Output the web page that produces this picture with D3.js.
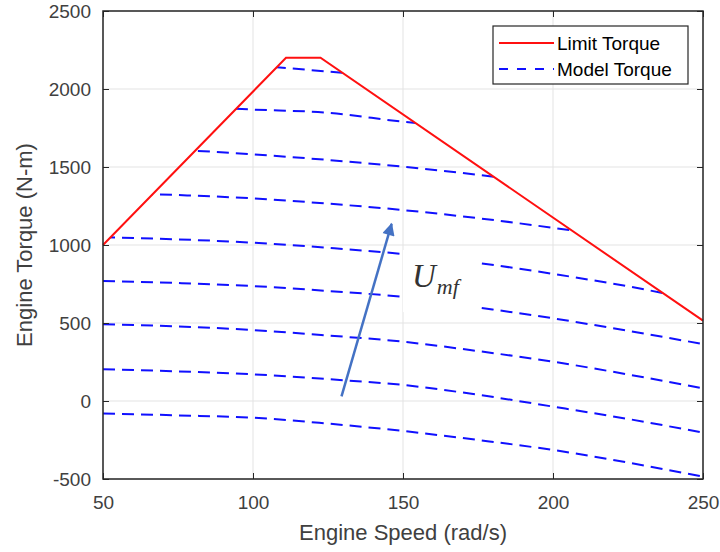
<!DOCTYPE html>
<html>
<head>
<meta charset="utf-8">
<script src="https://cdn.jsdelivr.net/npm/d3@7"></script>
<style>
body { margin: 0; background: #fff; }
text { font-family: Arial, "Liberation Sans", sans-serif; }
</style>
</head>
<body>
<div id="chart"></div>
<script>
// axis ticks
var speedTicks = [50, 100, 150, 200, 250];
var torqueTicks = [-500, 0, 500, 1000, 1500, 2000, 2500];

// limit torque envelope (rad/s, N-m)
var limitSpeed = [50, 111, 122.5, 250];
var limitTorque = [1000, 2200, 2200, 515];

// model torque curves, one per U_mf level, sampled at modelSpeed
var modelSpeed = [50, 75, 100, 125, 150, 175, 200, 225, 250];
var model1 = [-80, -92, -107, -145, -192, -250, -314, -395, -485];
var model2 = [203, 190, 171, 140, 103, 40, -36, -115, -203];
var model3 = [492, 478, 455, 420, 380, 320, 252, 170, 81];
var model4 = [769, 756, 737, 705, 667, 600, 530, 450, 365];
var model5 = [1050, 1036, 1015, 982, 942, 885, 815, 735, 640];
var model6 = [1336, 1320, 1299, 1265, 1224, 1172, 1110, 1040, 960];
var model7 = [1630, 1610, 1581, 1545, 1502, 1450, 1385, 1310, 1220];
var model8 = [1905, 1890, 1868, 1848, 1790, 1745, 1680, 1600, 1510];
var model9 = [2190, 2172, 2150, 2112, 2070, 2015, 1950, 1870, 1780];
var models = [model1, model2, model3, model4, model5, model6, model7, model8, model9];

var legendNames = ["Limit Torque", "Model Torque"];

// annotation (in data units)
var arrowFrom = [129.5, 30], arrowTo = [146.2, 1135];
var labelBox = [150, 175, 968, 570];
var labelAt = [153, 731];

var margin = { top: 11, left: 103, right: 17, bottom: 73 },
    width = 720 - margin.left - margin.right,
    height = 552 - margin.top - margin.bottom;

var svg = d3.select("#chart").append("svg")
    .attr("width", 720)
    .attr("height", 552);

var g = svg.append("g")
    .attr("transform", "translate(" + margin.left + "," + margin.top + ")");

var x = d3.scaleLinear().domain([50, 250]).range([0, width]);
var y = d3.scaleLinear().domain([-500, 2500]).range([height, 0]);

// grid
g.selectAll(".gx").data(speedTicks).enter().append("line")
    .attr("x1", d => x(d)).attr("x2", d => x(d))
    .attr("y1", 0).attr("y2", height)
    .attr("stroke", "#e3e3e3").attr("stroke-width", 1);
g.selectAll(".gy").data(torqueTicks).enter().append("line")
    .attr("x1", 0).attr("x2", width)
    .attr("y1", d => y(d)).attr("y2", d => y(d))
    .attr("stroke", "#e3e3e3").attr("stroke-width", 1);

// clip model curves to the area under the limit line
var limitPts = limitSpeed.map((s, i) => [x(s), y(limitTorque[i])]);
var clipPts = [[x(50), y(-500)]].concat(limitPts).concat([[x(250), y(-500)]]);
svg.append("defs").append("clipPath").attr("id", "under")
    .append("polygon")
    .attr("points", clipPts.map(p => p.join(",")).join(" "));

var line = d3.line().x(d => x(d[0])).y(d => y(d[1])).curve(d3.curveMonotoneX);

g.append("g").attr("clip-path", "url(#under)")
    .selectAll("path").data(models).enter().append("path")
    .attr("d", m => line(modelSpeed.map((s, i) => [s, m[i]])))
    .attr("fill", "none")
    .attr("stroke", "#1010ff")
    .attr("stroke-width", 2)
    .attr("stroke-dasharray", "12,7");

g.append("path")
    .attr("d", d3.line()(limitPts))
    .attr("fill", "none")
    .attr("stroke", "#ff1010")
    .attr("stroke-width", 2);

// label box + U_mf
g.append("rect")
    .attr("x", x(labelBox[0])).attr("width", x(labelBox[1]) - x(labelBox[0]))
    .attr("y", y(labelBox[2])).attr("height", y(labelBox[3]) - y(labelBox[2]))
    .attr("fill", "#fff");
var lab = g.append("text")
    .attr("x", x(labelAt[0])).attr("y", y(labelAt[1]))
    .style("font-family", "'Liberation Serif', 'DejaVu Serif', serif")
    .style("font-style", "italic")
    .attr("fill", "#333");
lab.append("tspan").attr("font-size", 33).text("U");
lab.append("tspan").attr("font-size", 22).attr("dy", 7).attr("dx", 1).text("mf");

// arrow
svg.select("defs").append("marker")
    .attr("id", "head")
    .attr("viewBox", "0 0 10 10")
    .attr("refX", 9).attr("refY", 5)
    .attr("markerWidth", 6).attr("markerHeight", 5)
    .attr("markerUnits", "strokeWidth")
    .attr("orient", "auto")
    .append("path").attr("d", "M0,0 L10,5 L0,10 z").attr("fill", "#4472c4");
g.append("line")
    .attr("x1", x(arrowFrom[0])).attr("y1", y(arrowFrom[1]))
    .attr("x2", x(arrowTo[0])).attr("y2", y(arrowTo[1]))
    .attr("stroke", "#4472c4").attr("stroke-width", 2.5)
    .attr("marker-end", "url(#head)");

// axes with inward ticks on all sides
function styleAxis(sel) {
    sel.select(".domain").remove();
    sel.selectAll(".tick line").attr("stroke", "#262626").attr("stroke-width", 1);
    sel.selectAll("text").attr("fill", "#404040").style("font-size", "19px");
}
var plain = d => String(d);
g.append("g").attr("transform", "translate(0," + height + ")")
    .call(d3.axisBottom(x).tickValues(speedTicks).tickFormat(plain).tickSizeInner(-6).tickSizeOuter(0).tickPadding(17))
    .call(styleAxis);
g.append("g")
    .call(d3.axisLeft(y).tickValues(torqueTicks).tickFormat(plain).tickSizeInner(-6).tickSizeOuter(0).tickPadding(12))
    .call(styleAxis);
g.append("g")
    .call(d3.axisTop(x).tickValues(speedTicks).tickSizeInner(-6).tickSizeOuter(0).tickFormat(""))
    .call(styleAxis);
g.append("g").attr("transform", "translate(" + width + ",0)")
    .call(d3.axisRight(y).tickValues(torqueTicks).tickSizeInner(-6).tickSizeOuter(0).tickFormat(""))
    .call(styleAxis);

g.append("rect")
    .attr("width", width).attr("height", height)
    .attr("fill", "none").attr("stroke", "#262626").attr("stroke-width", 1.5);

// axis titles
svg.append("text")
    .attr("x", margin.left + width / 2).attr("y", 540)
    .attr("text-anchor", "middle")
    .attr("fill", "#404040").style("font-size", "22px")
    .text("Engine Speed (rad/s)");
svg.append("text")
    .attr("transform", "translate(32," + (margin.top + height / 2) + ") rotate(-90)")
    .attr("text-anchor", "middle")
    .attr("fill", "#404040").style("font-size", "22px")
    .text("Engine Torque (N-m)");

// legend
var leg = svg.append("g").attr("transform", "translate(493,26)");
leg.append("rect").attr("width", 195).attr("height", 58)
    .attr("fill", "#fff").attr("stroke", "#262626").attr("stroke-width", 1.2);
var legItems = leg.selectAll(".item").data(legendNames).enter().append("g")
    .attr("transform", (d, i) => "translate(0," + (17 + i * 26) + ")");
legItems.append("line")
    .attr("x1", 6).attr("x2", 61)
    .attr("stroke", (d, i) => i === 0 ? "#ff1010" : "#1010ff")
    .attr("stroke-width", 2)
    .attr("stroke-dasharray", (d, i) => i === 0 ? null : "9,9");
legItems.append("text")
    .attr("x", 64).attr("dy", "0.35em")
    .attr("fill", "#000").style("font-size", "19px")
    .text(d => d);
</script>
</body>
</html>
